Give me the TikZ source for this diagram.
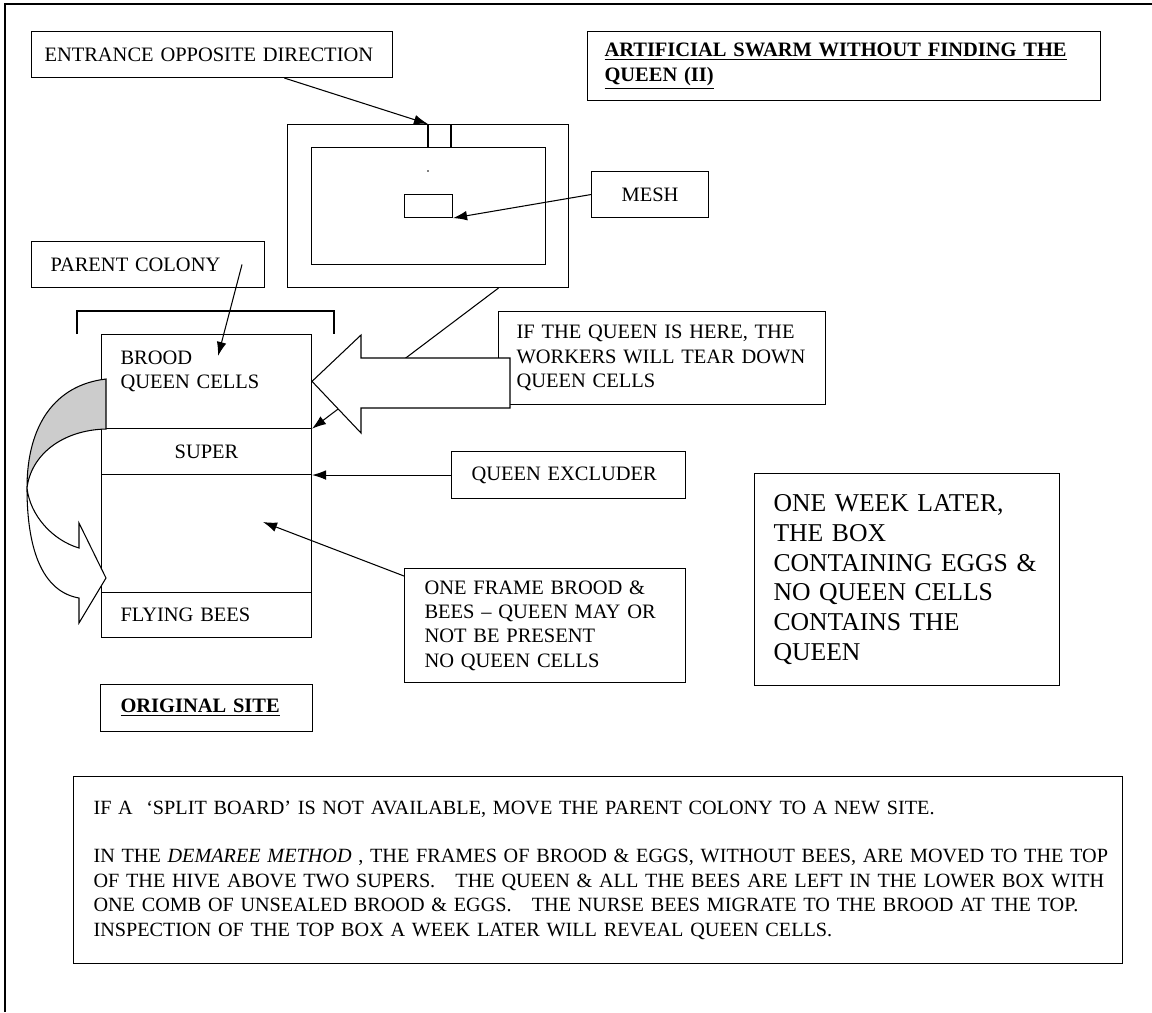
\documentclass[tikz,border=0pt]{standalone}
\usepackage{fontspec}
\setmainfont{Liberation Serif}
\usepackage{tikz}
\usetikzlibrary{calc}
\usetikzlibrary{arrows.meta}
\newcommand{\notefont}{\fontsize{11.65}{13.9}\selectfont}
\newcommand{\weekfont}{\fontsize{14.6}{17}\selectfont}

\begin{document}
\begin{tikzpicture}[x=0.02cm,y=-0.02cm,line width=0.6pt,
	note/.style={draw,anchor=north west,align=left,inner ysep=0pt,font=\notefont},
	part/.style={draw,anchor=north west,inner sep=0pt,font=\notefont},
	pointer/.style={-{Latex[length=8pt,width=5.5pt]}}]
		\useasboundingbox (0,0) rectangle (1152,1012);
		\draw [line width=0.9pt] (5,1012) -- (5,4) -- (1152,4);
		\node [note,minimum width=7.22cm,minimum height=0.92cm,inner xsep=0.26cm,text width=6.7cm] (entrance) at (31,31) {ENTRANCE OPPOSITE DIRECTION};
		\node [note,minimum width=10.26cm,minimum height=1.38cm,inner xsep=0.34cm,text width=9.58cm] (title) at (587,31) {\underline{\textbf{ARTIFICIAL SWARM WITHOUT FINDING THE}}\\\underline{\textbf{QUEEN (II)}}};
		\node [part,minimum width=5.62cm,minimum height=3.26cm] (board) at (287,124) {};
		\node [part,minimum width=4.68cm,minimum height=2.34cm] (boardin) at (311,147) {};
		\draw (428,124) -- (428,147) (451,124) -- (451,147);
		\coordinate (slot) at (428,124);
		\fill (428,171) circle[radius=0.8];
		\node [part,minimum width=0.96cm,minimum height=0.46cm] (screen) at (404,194) {};
		\node [note,minimum width=2.34cm,minimum height=0.92cm,align=center] (mesh) at (591,171) {MESH};
		\draw [pointer] ($(entrance.south west)!0.7!(entrance.south east)$) -- (slot);
		\draw [pointer] (mesh.west) -- (screen.south east);
		\node [note,minimum width=4.66cm,minimum height=0.92cm,inner xsep=0.38cm,text width=3.9cm] (parent) at (31,241) {PARENT COLONY};
		\draw (77,334) -- (77,311) -- (334,311) -- (334,334);
		\node [note,minimum width=4.2cm,inner xsep=0.38cm,text width=3.44cm,text height=17pt,text depth=36.3pt] (brood) at (101,334) {BROOD\\QUEEN CELLS};
		\node [part,minimum width=4.2cm,minimum height=0.92cm] (super) at (101,428) {SUPER};
		\node [part,minimum width=4.2cm,minimum height=2.36cm] (lower) at (101,474) {};
		\node [note,minimum width=4.2cm,minimum height=0.9cm,inner xsep=0.38cm,text width=3.44cm] (flying) at (101,592) {FLYING BEES};
		\draw [pointer] ($(parent.east)+(-23,0)$) -- ($(brood.north west)+(117,22)$);
		\node [note,minimum width=6.54cm,minimum height=1.86cm,inner xsep=0.36cm,text width=5.82cm] (queenhere) at (498,311) {IF THE QUEEN IS HERE, THE\\WORKERS WILL TEAR DOWN\\QUEEN CELLS};
		\draw [pointer] ($(board.south west)!0.75!(board.south east)$) -- (brood.south east);
		\draw [fill=white] (510,358) -- (361,358) -- (361,335) -- (brood.east) -- (361,433) -- (361,408) -- (510,408) -- cycle;
		\node [note,minimum width=4.68cm,minimum height=0.94cm,inner xsep=0.4cm,text width=3.88cm] (excluder) at (451,451) {QUEEN EXCLUDER};
		\draw [pointer] (excluder.west) -- (excluder.west -| lower.east);
		\node [note,minimum width=5.62cm,minimum height=2.28cm,inner xsep=0.4cm,text width=4.82cm] (oneframe) at (404,568) {ONE FRAME BROOD \&\\BEES -- QUEEN MAY OR\\NOT BE PRESENT\\NO QUEEN CELLS};
		\draw [pointer] ($(oneframe.north west)+(0,8)$) -- ($(lower.north west)+(162,48)$);
		\node [note,font=\weekfont,minimum width=6.1cm,minimum height=4.24cm,inner xsep=0.38cm,text width=5.34cm] (weeklater) at (754,473) {ONE WEEK LATER,\\THE BOX\\CONTAINING EGGS \&\\NO QUEEN CELLS\\CONTAINS THE\\QUEEN};
		\draw [fill=black!20] (106,379) .. controls (55,385) and (27,425) .. (27,488) .. controls (31,455) and (62,430) .. (106,429) -- cycle;
		\draw [fill=white] (27,488) .. controls (27,555) and (45,592) .. (79,598) -- (79,623) -- (106,578) -- (79,523) -- (79,548) .. controls (52,540) and (30,515) .. (27,488) -- cycle;
		\node [note,minimum width=4.24cm,minimum height=0.94cm,inner xsep=0.4cm,text width=3.44cm] (original) at (100,684) {\underline{\textbf{ORIGINAL SITE}}};
		\node [note,font=\fontsize{11.5}{13.9}\selectfont,minimum width=20.98cm,minimum height=3.74cm,inner xsep=0.4cm,text width=20.18cm] (method) at (73,776) {\mbox{IF A \ `SPLIT BOARD' IS NOT AVAILABLE, MOVE THE PARENT COLONY TO A NEW SITE.}\\[13.9pt]
		\mbox{IN THE \textit{DEMAREE METHOD} , THE FRAMES OF BROOD \& EGGS, WITHOUT BEES, ARE MOVED TO THE TOP}\\
		\mbox{OF THE HIVE ABOVE TWO SUPERS.\ \ \ THE QUEEN \& ALL THE BEES ARE LEFT IN THE LOWER BOX WITH}\\
		\mbox{ONE COMB OF UNSEALED BROOD \& EGGS.\ \ \ THE NURSE BEES MIGRATE TO THE BROOD AT THE TOP.}\\
		\mbox{INSPECTION OF THE TOP BOX A WEEK LATER WILL REVEAL QUEEN CELLS.}};
	\end{tikzpicture}
\end{document}
